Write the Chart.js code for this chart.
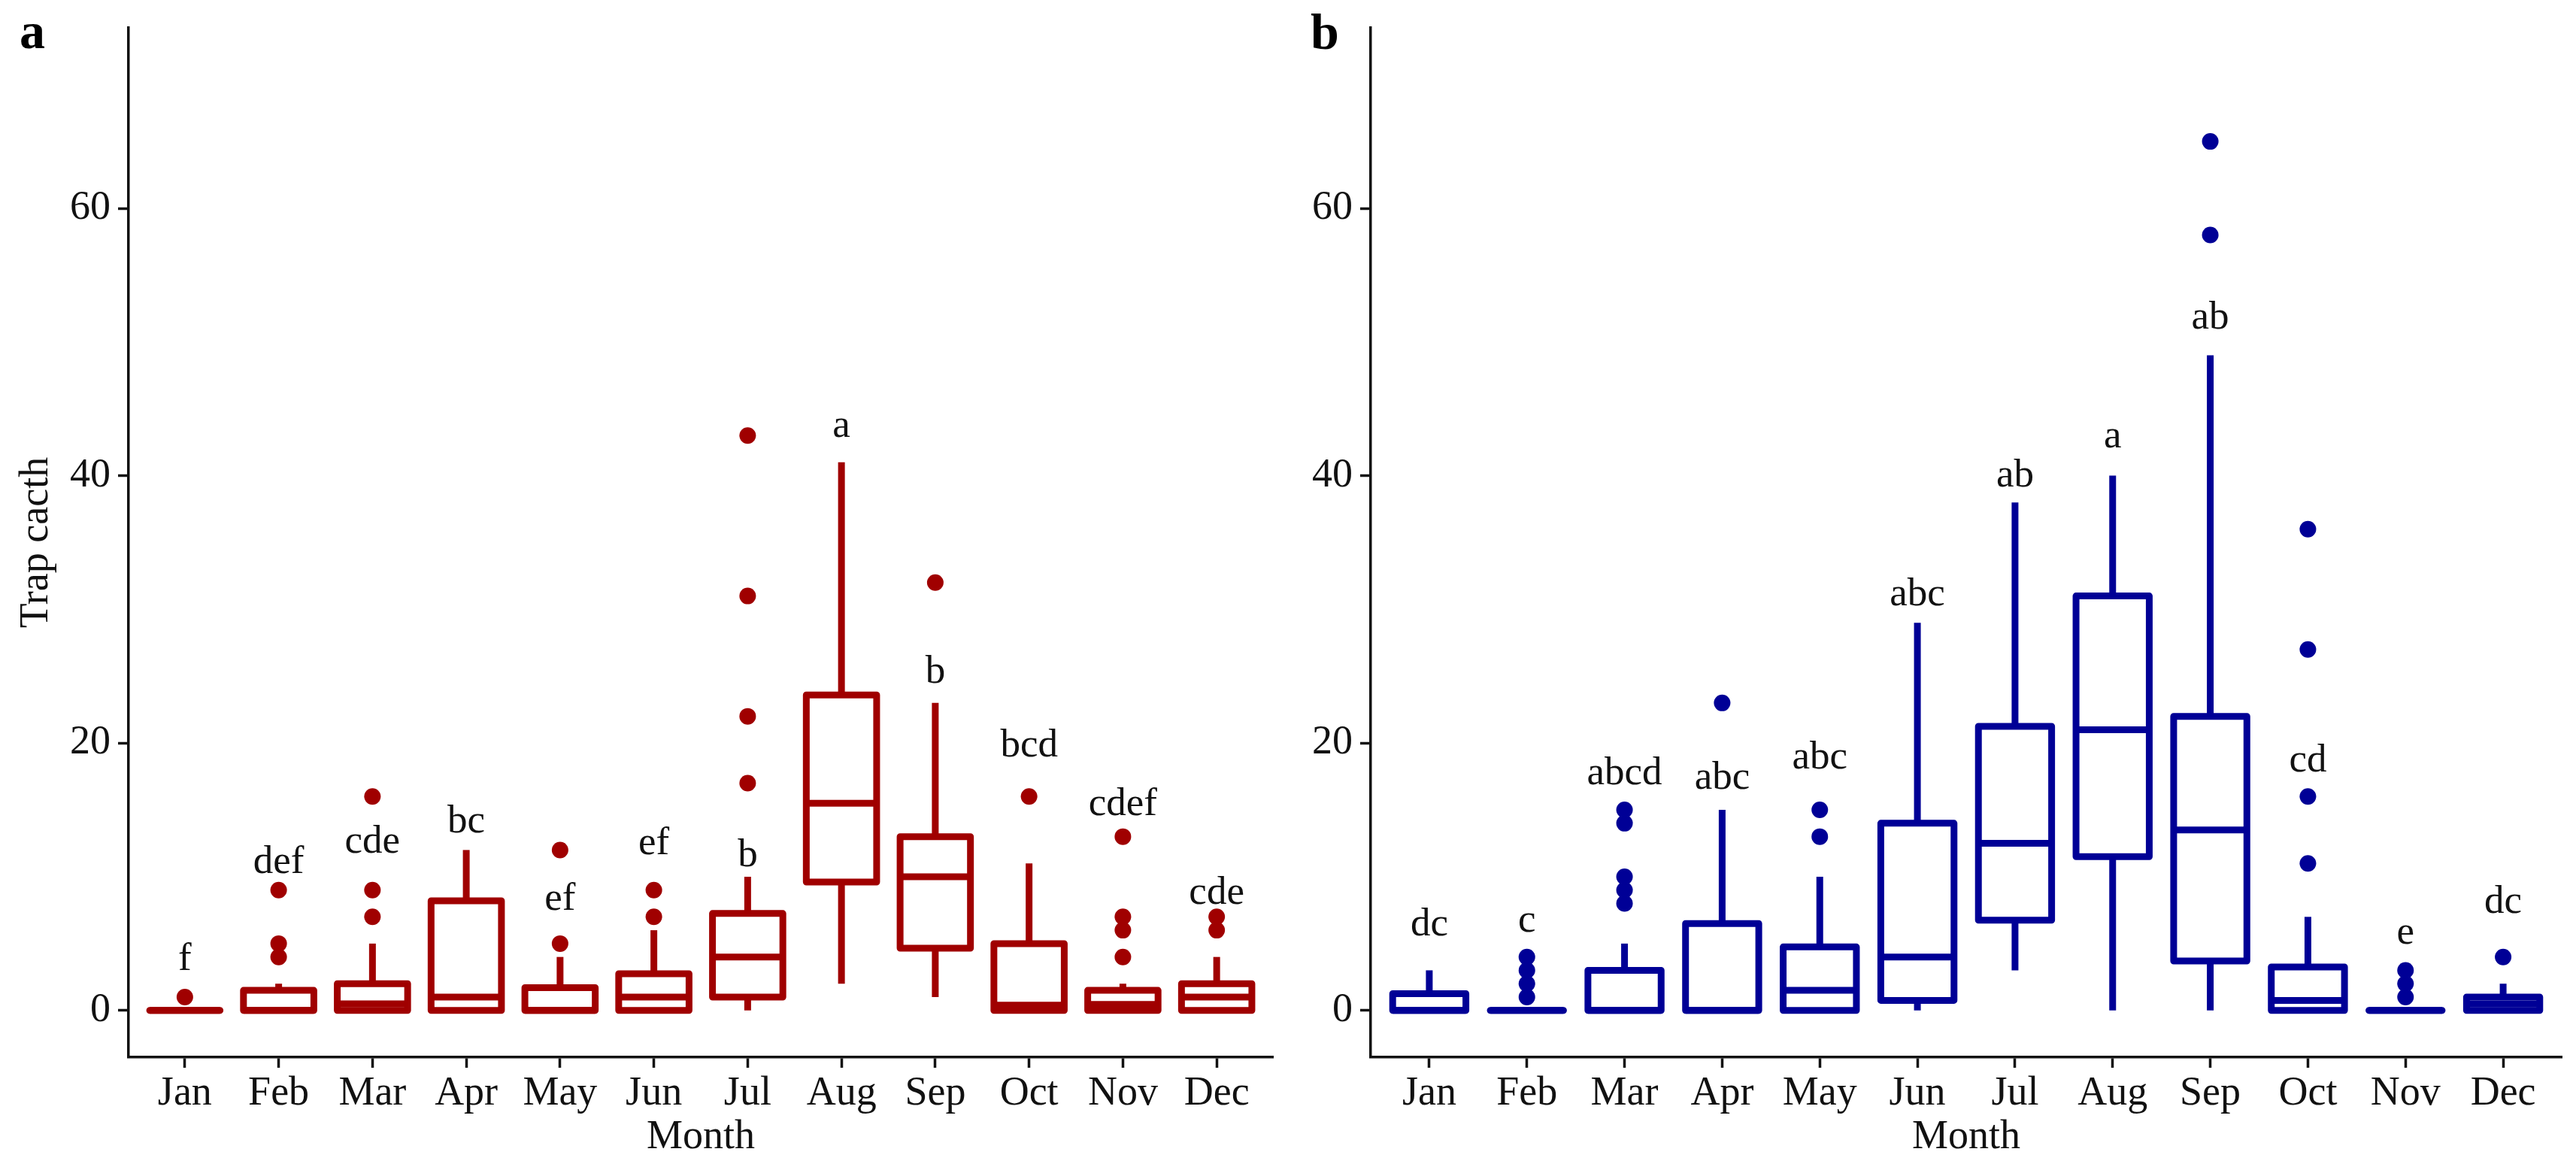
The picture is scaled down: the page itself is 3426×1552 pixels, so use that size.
<!DOCTYPE html>
<html>
<head>
<meta charset="utf-8">
<script src="https://cdn.jsdelivr.net/npm/chart.js@4.4.1/dist/chart.umd.min.js"></script>
<style>
  html, body { margin: 0; padding: 0; background: #fff; }
  #wrap { position: relative; width: 3426px; height: 1552px; overflow: hidden; }
  canvas { position: absolute; top: 0; }
</style>
</head>
<body>
<div id="wrap">
  <canvas id="chartA" width="1760" height="1552" style="left:0;width:1760px;height:1552px"></canvas>
  <canvas id="chartB" width="1726" height="1552" style="left:1700px;width:1726px;height:1552px"></canvas>
</div>
<script>
const months = ["Jan", "Feb", "Mar", "Apr", "May", "Jun", "Jul", "Aug", "Sep", "Oct", "Nov", "Dec"];
const yTicks = [0, 20, 40, 60];

// panel a (red)
const aLow    = [0, 0, 0, 0, 0, 0, 0, 2, 1, 0, 0, 0];
const aQ1     = [0, 0, 0, 0, 0, 0, 1, 9.6, 4.65, 0, 0, 0];
const aMedian = [0, 0, 0.5, 1, 0, 1, 4, 15.5, 10, 0.4, 0.45, 1];
const aQ3     = [0, 1.5, 2, 8.2, 1.7, 2.75, 7.25, 23.6, 13, 5, 1.5, 2];
const aHigh   = [0, 2, 5, 12, 4, 6, 10, 41, 23, 11, 2, 4];
const aOutliers = [[1], [4, 5, 9], [7, 9, 16], [], [5, 12], [7, 9], [17, 22, 31, 43], [], [32], [16], [4, 6, 7, 13], [6, 7]];
const aLetters  = ["f", "def", "cde", "bc", "ef", "ef", "b", "a", "b", "bcd", "cdef", "cde"];
const aLetterY  = [3.0, 10.3, 11.8, 13.3, 7.5, 11.7, 10.8, 42.9, 24.5, 19.0, 14.6, 8.0];

// panel b (blue)
const bLow    = [0, 0, 0, 0, 0, 0, 3, 0, 0, 0, 0, 0];
const bQ1     = [0, 0, 0, 0, 0, 0.75, 6.75, 11.5, 3.7, 0, 0, 0];
const bMedian = [0, 0, 0, 0, 1.5, 4, 12.5, 21, 13.5, 0.75, 0, 0.5];
const bQ3     = [1.25, 0, 3, 6.5, 4.75, 14, 21.25, 31, 22, 3.25, 0, 1];
const bHigh   = [3, 0, 5, 15, 10, 29, 38, 40, 49, 7, 0, 2];
const bOutliers = [[], [1, 2, 3, 4], [8, 9, 10, 14, 15], [23], [13, 15], [], [], [], [58, 65], [11, 16, 27, 36], [1, 2, 3], [4]];
const bLetters  = ["dc", "c", "abcd", "abc", "abc", "abc", "ab", "a", "ab", "cd", "e", "dc"];
const bLetterY  = [5.6, 5.9, 16.9, 16.6, 18.1, 30.3, 39.2, 42.1, 51.0, 17.9, 5.0, 7.3];

const FONT = "'Liberation Serif', 'Times New Roman', serif";
Chart.defaults.font.family = FONT;
Chart.defaults.color = "#111";

// draws whiskers, boxes and medians through the chart's scales
const boxPlugin = {
  id: "boxes",
  beforeDatasetsDraw(chart, args, o) {
    const xs = chart.scales.x, ys = chart.scales.y, ctx = chart.ctx;
    const half = xs.getPixelForValue(1.375) - xs.getPixelForValue(1);
    ctx.save();
    ctx.strokeStyle = o.color;
    ctx.lineWidth = 9;
    ctx.lineCap = "butt";
    ctx.lineJoin = "round";
    for (let i = 0; i < months.length; i++) {
      const x = xs.getPixelForValue(i + 1);
      const yLo = ys.getPixelForValue(o.low[i]);
      const yQ1 = ys.getPixelForValue(o.q1[i]);
      const yMed = ys.getPixelForValue(o.median[i]);
      const yQ3 = ys.getPixelForValue(o.q3[i]);
      const yHi = ys.getPixelForValue(o.high[i]);
      ctx.beginPath();
      ctx.moveTo(x, yQ3); ctx.lineTo(x, yHi);
      ctx.moveTo(x, yQ1); ctx.lineTo(x, yLo);
      ctx.stroke();
      ctx.fillStyle = "#fff";
      ctx.fillRect(x - half, yQ3, 2 * half, yQ1 - yQ3);
      ctx.strokeRect(x - half, yQ3, 2 * half, yQ1 - yQ3);
      ctx.beginPath();
      ctx.moveTo(x - half, yMed); ctx.lineTo(x + half, yMed);
      ctx.stroke();
    }
    ctx.restore();
  },
  afterDatasetsDraw(chart, args, o) {
    const xs = chart.scales.x, ys = chart.scales.y, ctx = chart.ctx;
    ctx.save();
    ctx.fillStyle = "#111";
    ctx.font = "53px " + FONT;
    ctx.textAlign = "center";
    ctx.textBaseline = "alphabetic";
    o.letters.forEach((t, i) => {
      ctx.fillText(t, xs.getPixelForValue(i + 1), ys.getPixelForValue(o.letterY[i]));
    });
    ctx.font = "bold 68px " + FONT;
    ctx.textAlign = "left";
    ctx.fillStyle = "#000";
    ctx.fillText(o.tag, o.tagX, o.tagY);
    ctx.restore();
  }
};

function makePanel(id, color, low, q1, median, q3, high, outliers, letters, letterY, opts) {
  const points = [];
  outliers.forEach((arr, i) => arr.forEach(v => points.push({ x: i + 1, y: v })));

  return new Chart(document.getElementById(id), {
    type: "scatter",
    data: {
      datasets: [{
        data: points,
        pointRadius: 11,
        pointHoverRadius: 11,
        pointBackgroundColor: color,
        pointBorderWidth: 0,
        showLine: false
      }]
    },
    options: {
      responsive: false,
      animation: false,
      devicePixelRatio: 1,
      layout: { padding: { left: 0, right: opts.padRight, top: 14, bottom: 0 } },
      plugins: {
        legend: { display: false },
        tooltip: { enabled: false },
        boxes: {
          color: color, low: low, q1: q1, median: median, q3: q3, high: high,
          letters: letters, letterY: letterY,
          tag: opts.tag, tagX: opts.tagX, tagY: opts.tagY
        }
      },
      scales: {
        x: {
          type: "linear",
          min: 0.4,
          max: 12.6,
          afterBuildTicks: s => { s.ticks = months.map((m, i) => ({ value: i + 1 })); },
          afterFit: s => { s.height = 146; },
          ticks: {
            autoSkip: false,
            maxRotation: 0,
            padding: 8,
            color: "#111",
            font: { size: 54, lineHeight: 1 },
            callback: v => months[Math.round(v) - 1]
          },
          grid: { display: true, drawOnChartArea: false, drawTicks: true, tickLength: 14, tickWidth: 3.5, tickColor: "#111" },
          border: { display: true, color: "#111", width: 3.5 },
          title: { display: true, text: "Month", color: "#111", font: { size: 54, lineHeight: 1 }, padding: { top: 0, bottom: 12 } }
        },
        y: {
          type: "linear",
          min: -3.5,
          max: 73.5,
          afterBuildTicks: s => { s.ticks = yTicks.map(v => ({ value: v })); },
          afterFit: s => { s.width = opts.yWidth; },
          ticks: { padding: 10, color: "#111", font: { size: 54, lineHeight: 1 } },
          grid: { display: true, drawOnChartArea: false, drawTicks: true, tickLength: 14, tickWidth: 3.5, tickColor: "#111" },
          border: { display: true, color: "#111", width: 3.5 },
          title: { display: opts.yTitle !== "", text: opts.yTitle, color: "#111", font: { size: 54, lineHeight: 1 }, padding: { top: 22, bottom: 0 } }
        }
      }
    },
    plugins: [boxPlugin]
  });
}

makePanel("chartA", "#a00000", aLow, aQ1, aMedian, aQ3, aHigh, aOutliers, aLetters, aLetterY,
  { padRight: 67, yWidth: 171, yTitle: "Trap cacth", tag: "a", tagX: 26, tagY: 64 });
makePanel("chartB", "#000096", bLow, bQ1, bMedian, bQ3, bHigh, bOutliers, bLetters, bLetterY,
  { padRight: 19, yWidth: 123, yTitle: "", tag: "b", tagX: 43, tagY: 65 });
</script>
</body>
</html>
